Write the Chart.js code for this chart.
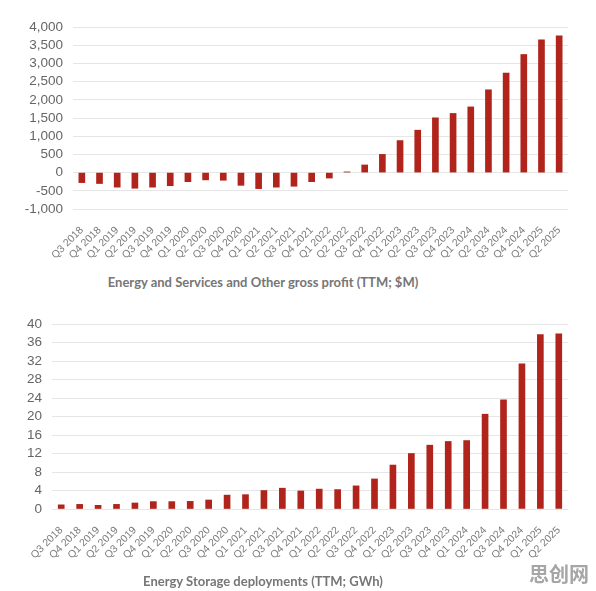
<!DOCTYPE html>
<html>
<head>
<meta charset="utf-8">
<script src="https://cdn.jsdelivr.net/npm/chart.js@4"></script>
<style>
  html, body { margin: 0; padding: 0; background: #fff; }
  body { width: 596px; height: 591px; position: relative; overflow: hidden; }
  canvas { position: absolute; left: 0; }
  #c1 { top: 0; }
  #c2 { top: 295px; }
  .ttl { position: absolute; left: 0; width: 526px; text-align: center;
         font-family: Lato, "Open Sans", sans-serif; font-weight: bold; font-size: 13px; color: #767676; }
  #t1 { top: 274px; }
  #t2 { top: 573px; }
  #wm { position: absolute; left: 529px; top: 559px; font-family: "Noto Sans CJK SC", sans-serif;
        font-weight: bold; font-size: 20px; color: #a6a6a6; }
</style>
</head>
<body>
<canvas id="c1" width="596" height="270"></canvas>
<canvas id="c2" width="596" height="280"></canvas>
<div class="ttl" id="t1">Energy and Services and Other gross profit (TTM; $M)</div>
<div class="ttl" id="t2">Energy Storage deployments (TTM; GWh)</div>
<div id="wm">思创网</div>
<script>
const quarters = ["Q3 2018","Q4 2018","Q1 2019","Q2 2019","Q3 2019","Q4 2019","Q1 2020","Q2 2020","Q3 2020","Q4 2020",
  "Q1 2021","Q2 2021","Q3 2021","Q4 2021","Q1 2022","Q2 2022","Q3 2022","Q4 2022","Q1 2023","Q2 2023",
  "Q3 2023","Q4 2023","Q1 2024","Q2 2024","Q3 2024","Q4 2024","Q1 2025","Q2 2025"];
const grossProfit = [-275,-300,-400,-430,-400,-360,-250,-200,-210,-350,-440,-400,-375,-250,-150,20,210,500,880,1165,1505,1625,1805,2275,2735,3245,3650,3760];
const storageGWh = [0.9,1.0,0.8,1.0,1.3,1.6,1.6,1.65,1.95,3.0,3.1,4.0,4.5,3.9,4.3,4.2,5.0,6.5,9.5,12.0,13.8,14.6,14.8,20.5,23.6,31.4,37.7,37.9];
const profitTicks = { min: -1000, max: 4000, step: 500 };
const storageTicks = { min: 0, max: 40, step: 4 };

const barColor = '#b0241c';
const gridColor = '#e6e6e6';
const tickFont = { family: '"Liberation Sans", Arial, sans-serif', size: 13.5, lineHeight: 1 };
const xFont = { family: '"Liberation Sans", Arial, sans-serif', size: 10.5 };

function makeChart(id, data, ticks, yWidth, padTop, xHeight) {
  return new Chart(document.getElementById(id), {
    type: 'bar',
    data: { labels: quarters, datasets: [{ data: data, backgroundColor: barColor, barThickness: 6 }] },
    options: {
      responsive: false,
      animation: false,
      layout: { padding: { top: padTop, right: 28, left: 0, bottom: 0 } },
      plugins: { legend: { display: false }, tooltip: { enabled: false } },
      scales: {
        x: {
          grid: { display: false },
          border: { display: false },
          ticks: { autoSkip: false, minRotation: 45, maxRotation: 45, color: '#7a7a7a', font: xFont, padding: 7 },
          afterFit: s => { s.height = xHeight; }
        },
        y: {
          min: ticks.min, max: ticks.max,
          grid: { color: gridColor, lineWidth: 1, drawTicks: false },
          border: { display: false },
          ticks: { stepSize: ticks.step, autoSkip: false, maxTicksLimit: 30, color: '#666', font: tickFont, padding: 10 },
          afterFit: s => { s.width = yWidth; }
        }
      }
    }
  });
}
makeChart('c1', grossProfit, profitTicks, 73, 27, 61);
makeChart('c2', storageGWh, storageTicks, 52, 29, 66);
</script>
</body>
</html>
